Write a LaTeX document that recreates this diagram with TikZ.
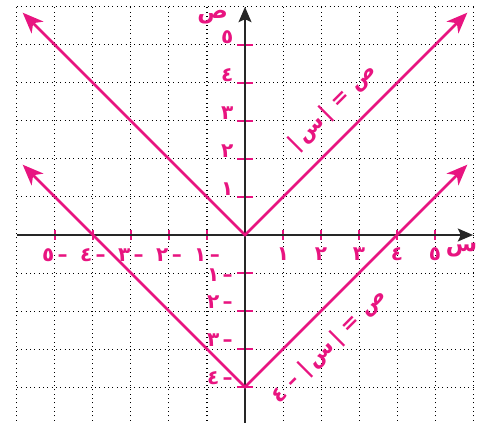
\documentclass[tikz,border=0pt]{standalone}
\usepackage{fontspec}
\usepackage{tikz}
\usetikzlibrary{arrows.meta}
\newfontfamily\arabicfont[Script=Arabic]{DejaVu Sans}
\TeXXeTstate=1
\definecolor{graphpink}{RGB}{232,20,128}
\tikzstyle{gridline} = [black, line width=0.75pt, dash pattern=on 0.75pt off 2.5pt]
\tikzstyle{axis} = [black!85, line width=1.6pt,
    -{Stealth[length=4mm, width=3.4mm, inset=0.8mm]}]
\tikzstyle{graph} = [graphpink, line width=1.9pt,
    {Stealth[length=5.5mm, width=4.4mm, inset=1.6mm]}-{Stealth[length=5.5mm, width=4.4mm, inset=1.6mm]}]
\tikzstyle{tick} = [graphpink, line width=1.2pt]
\tikzstyle{ticklabel} = [graphpink, inner sep=0pt, font=\arabicfont\bfseries\fontsize{15}{17}\selectfont]
\tikzstyle{axislabel} = [graphpink, inner sep=0pt, font=\arabicfont\bfseries\fontsize{17}{19}\selectfont]
\tikzstyle{eqlabel} = [graphpink, inner sep=0pt, rotate=45, font=\arabicfont\bfseries\fontsize{16}{18}\selectfont]

\begin{document}
\begin{tikzpicture}
    \useasboundingbox (-6.447,-4.947) rectangle (6.105,6.184);

    % We start with the dotted grid and the ticks
    \draw [gridline] (-6,-5) grid (6,6);
    \foreach \k in {-5,...,-1,1,2,...,5}
        \draw [tick] (\k,-0.12) -- (\k,0.12);
    \foreach \k in {-4,...,-1,1,2,...,5}
        \draw [tick] (-0.2,\k) -- (0.2,\k);

    % axes
    \coordinate (xstart) at (-6,0);
    \coordinate (xend) at (6,0);
    \coordinate (ystart) at (0,-5);
    \coordinate (yend) at (0,6);
    \draw [axis] (xstart) -- (xend);
    \draw [axis] (ystart) -- (yend);
    \node [axislabel] (xname) at (5.7,-0.4) {س};
    \node [axislabel] (yname) at (-0.85,5.72) {ص};

    % numbers on the axes
    \foreach \k/\d in {1/١,2/٢,3/٣,4/٤,5/٥} {
        \node [ticklabel] (xpos\k) at (\k,-0.5) {\d};
        \node [ticklabel] (xneg\k) at (-\k,-0.52) {\d\,–};
        \node [ticklabel] (ypos\k) at (-0.47,\k+0.2) {\d};
    }
    \node [ticklabel] (yneg1) at (-0.66,-1.05) {١\,–};
    \foreach \k/\d in {2/٢,3/٣,4/٤}
        \node [ticklabel] (yneg\k) at (-0.66,-\k+0.24) {\d\,–};

    % the two graphs
    \coordinate (o) at (0,0);
    \coordinate (topleft) at (-5.85,5.85);
    \coordinate (topright) at (5.85,5.85);
    \draw [graph] (topleft) -- (o) -- (topright);
    \coordinate (v) at (0,-4);
    \coordinate (lowleft) at (-5.85,1.85);
    \coordinate (lowright) at (5.85,1.85);
    \draw [graph] (lowleft) -- (v) -- (lowright);

    \node [eqlabel] (eqtop) at (2.3,3.36) {\beginR ص = |\,س\,|\endR};
    \node [eqlabel] (eqlow) at (2.22,-2.93) {\beginR ص = |\,س\,| – ٤\endR};
\end{tikzpicture}
\end{document}
